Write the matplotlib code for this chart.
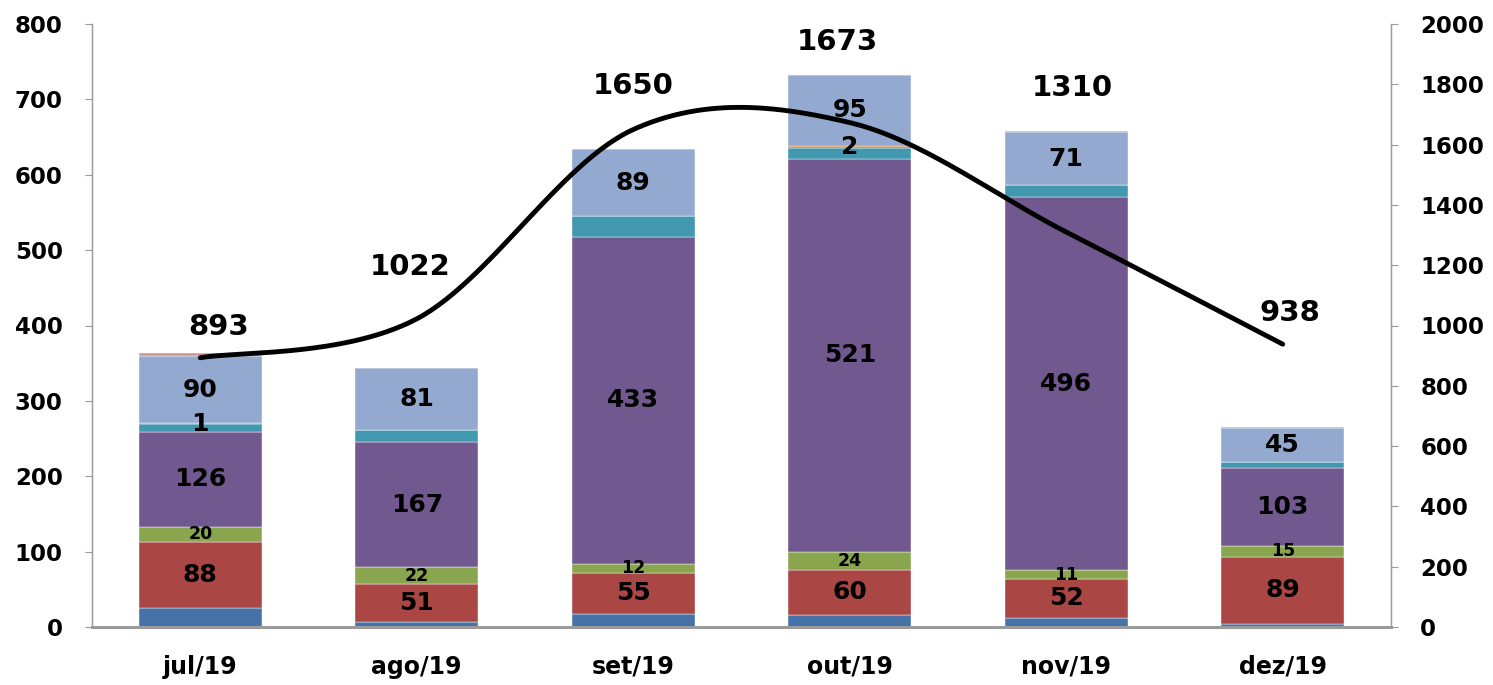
import numpy as np
import matplotlib
matplotlib.use("Agg")
import matplotlib.pyplot as plt

plt.rcParams['font.family'] = ['DejaVu Sans']

months = ["jul/19", "ago/19", "set/19", "out/19", "nov/19", "dez/19"]
s_blue = [25, 6, 17, 16, 12, 4]
s_red = [88, 51, 55, 60, 52, 89]
s_green = [20, 22, 12, 24, 11, 15]
s_purple = [126, 167, 433, 521, 496, 103]
s_teal = [10, 16, 28, 15, 15, 8]
s_orange = [1, 0, 0, 2, 0, 0]
s_lblue = [90, 81, 89, 95, 71, 45]
s_pink = [3, 0, 0, 0, 1, 2]
totals = [893, 1022, 1650, 1673, 1310, 938]

series = [
    (s_blue, "#4672A8", None),
    (s_red, "#AA4643", 18),
    (s_green, "#89A54E", 12.5),
    (s_purple, "#71588F", 18),
    (s_teal, "#4198AF", None),
    (s_orange, "#DB843D", 18),
    (s_lblue, "#93A9CF", 18),
    (s_pink, "#D19392", None),
]

W, H = 1493, 685
fig = plt.figure(figsize=(W / 100, H / 100), dpi=100)
ax = fig.add_axes([92 / W, 1 - 627 / H, (1391 - 92) / W, (627 - 24) / H])
ax2 = ax.twinx()

x = np.arange(len(months))
bottom = np.zeros(len(months))
for vals, col, fs in series:
    v = np.array(vals, dtype=float)
    ax.bar(x, v, width=0.57, bottom=bottom, color=col, edgecolor="#ffffff",
           linewidth=0.3, zorder=2)
    if fs is not None:
        for i in range(len(x)):
            if v[i] > 0:
                ax.text(x[i], bottom[i] + v[i] / 2, f"{int(v[i])}", ha="center",
                        va="center", fontsize=fs, fontweight="bold", color="black",
                        zorder=5)
    bottom += v

ax.set_xlim(-0.5, len(months) - 0.5)
ax.set_ylim(0, 800)
ax.set_yticks(np.arange(0, 801, 100))
ax2.set_ylim(0, 2000)
ax2.set_yticks(np.arange(0, 2001, 200))

# smooth line (Excel-like Bezier smoothing)
px = x.astype(float)
py = np.array(totals, dtype=float)
pts = np.column_stack([px, py])
curve = []
n = len(pts)
for i in range(n - 1):
    p0 = pts[max(i - 1, 0)]
    p1 = pts[i]
    p2 = pts[i + 1]
    p3 = pts[min(i + 2, n - 1)]
    c1 = p1 + (p2 - p0) / 6
    c2 = p2 - (p3 - p1) / 6
    t = np.linspace(0, 1, 60)[:, None]
    seg = ((1 - t) ** 3) * p1 + 3 * ((1 - t) ** 2) * t * c1 + 3 * (1 - t) * t ** 2 * c2 + t ** 3 * p2
    curve.append(seg)
curve = np.vstack(curve)
ax2.plot(curve[:, 0], curve[:, 1], color="black", lw=3.5, zorder=6,
         solid_capstyle="round")

offsets = [(18, 31), (-7, 52), (0, 44), (-12, 81), (6, 144), (7, 31)]
for i, v in enumerate(totals):
    ax2.annotate(f"{v}", (px[i], v), xytext=offsets[i], textcoords="offset pixels",
                 ha="center", va="center", fontsize=21, fontweight="bold")

ax.set_xticks(x)
ax.set_xticklabels(months, fontsize=17, fontweight="bold")
for lbl in ax.get_yticklabels():
    lbl.set_fontsize(16.5)
    lbl.set_fontweight("bold")
for lbl in ax2.get_yticklabels():
    lbl.set_fontsize(16.5)
    lbl.set_fontweight("bold")

gray = "#9a9a9a"
for a in (ax, ax2):
    a.spines["top"].set_visible(False)
    for s in ("left", "right", "bottom"):
        a.spines[s].set_color(gray)
ax.spines["bottom"].set_linewidth(2.2)
ax.spines["left"].set_linewidth(1)
ax2.spines["right"].set_linewidth(1)
ax.tick_params(axis="x", length=0, pad=20)
ax.tick_params(axis="y", length=5, color=gray, pad=16)
ax2.tick_params(axis="y", length=5, color=gray, pad=16)

ax.set_zorder(1)
ax2.set_zorder(2)
ax2.patch.set_visible(False)

fig.savefig("out.png", dpi=100)
